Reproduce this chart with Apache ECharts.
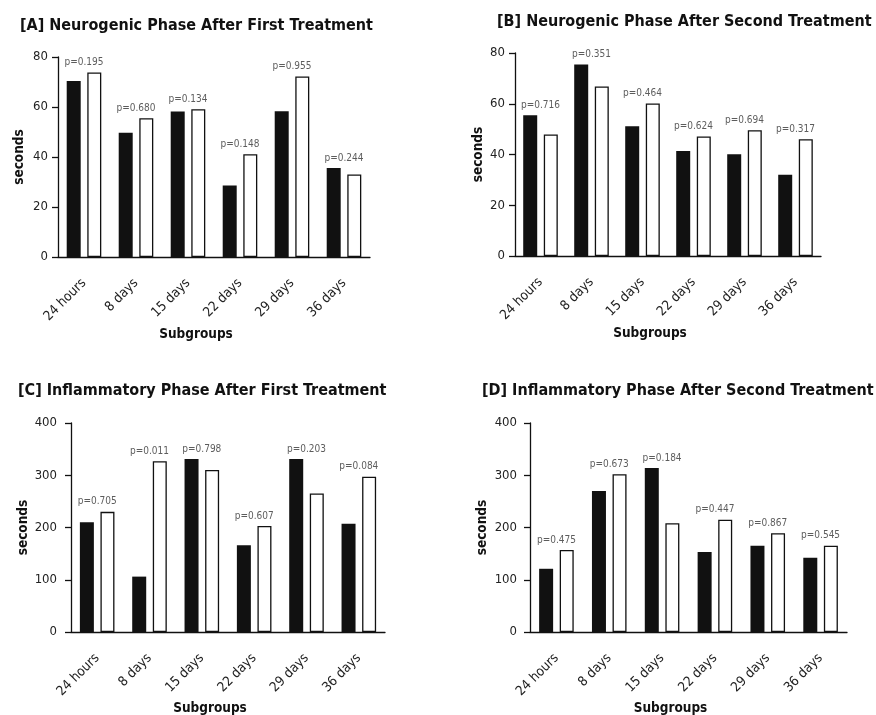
<!DOCTYPE html>
<html>
<head>
<meta charset="UTF-8"/>
<script type="text/javascript" src="https://cdn.jsdelivr.net/npm/echarts@6.0.0/dist/echarts.min.js"></script>
<style>
  html, body { margin: 0; padding: 0; background: #fff; }
  #main { width: 876px; height: 715px; }
</style>
</head>
<body>
<div id="main"></div>
<script type="text/javascript">
// categories on every panel
var categories = ['24 hours', '8 days', '15 days', '22 days', '29 days', '36 days'];

// [A] neurogenic phase, first treatment
var aBlack = [70.4, 49.7, 58.2, 28.6, 58.3, 35.6];
var aWhite = [73.8, 55.5, 59.1, 41.1, 72.2, 33.0];
var aP = ['0.195', '0.680', '0.134', '0.148', '0.955', '0.244'];

// [B] neurogenic phase, second treatment
var bBlack = [55.5, 75.5, 51.1, 41.4, 40.1, 32.0];
var bWhite = [47.9, 66.8, 60.1, 47.1, 49.6, 46.0];
var bP = ['0.716', '0.351', '0.464', '0.624', '0.694', '0.317'];

// [C] inflammatory phase, first treatment
var cBlack = [210, 106, 331, 166, 331, 207];
var cWhite = [230, 327, 310, 203, 265, 297];
var cP = ['0.705', '0.011', '0.798', '0.607', '0.203', '0.084'];

// [D] inflammatory phase, second treatment
var dBlack = [121, 270, 314, 153, 165, 142];
var dWhite = [157, 302, 208, 215, 189, 165];
var dP = ['0.475', '0.673', '0.184', '0.447', '0.867', '0.545'];

var titles = [
  '[A] Neurogenic Phase After First Treatment',
  '[B] Neurogenic Phase After Second Treatment',
  '[C] Inflammatory Phase After First Treatment',
  '[D] Inflammatory Phase After Second Treatment'
];

var font = "'DejaVu Sans Condensed', 'Liberation Sans', sans-serif";

var panels = [
  { black: aBlack, white: aWhite, p: aP, max: 80, interval: 20,
    grid: { left: 58, top: 57, width: 312, height: 200 }, title: { left: 15, top: 13 },
    yGap: 32, yMargin: 10, xGap: 70 },
  { black: bBlack, white: bWhite, p: bP, max: 80, interval: 20,
    grid: { left: 515, top: 53, width: 306, height: 203 }, title: { left: 492, top: 9 },
    yGap: 30, yMargin: 10, xGap: 70 },
  { black: cBlack, white: cWhite, p: cP, max: 400, interval: 100,
    grid: { left: 71, top: 423, width: 314, height: 209 }, title: { left: 13, top: 378 },
    yGap: 41, yMargin: 14, xGap: 67 },
  { black: dBlack, white: dWhite, p: dP, max: 400, interval: 100,
    grid: { left: 530, top: 423, width: 317, height: 209 }, title: { left: 477, top: 378 },
    yGap: 41, yMargin: 13, xGap: 67 }
];

var option = {
  backgroundColor: '#fff',
  animation: false,
  textStyle: { fontFamily: font },
  title: [],
  grid: [],
  xAxis: [],
  yAxis: [],
  series: []
};

panels.forEach(function (pn, i) {
  option.title.push({
    text: titles[i],
    left: pn.title.left,
    top: pn.title.top,
    textStyle: { fontFamily: font, fontSize: 16, fontWeight: 'bold', color: '#111' }
  });
  option.grid.push({
    left: pn.grid.left, top: pn.grid.top, width: pn.grid.width, height: pn.grid.height,
    outerBoundsMode: 'none'
  });
  option.xAxis.push({
    type: 'category',
    gridIndex: i,
    data: categories,
    name: 'Subgroups',
    nameLocation: 'middle',
    nameGap: pn.xGap,
    nameTextStyle: { fontFamily: font, fontSize: 13.5, fontWeight: 'bold', color: '#111', padding: [0, 36, 0, 0] },
    axisLine: { lineStyle: { color: '#111', width: 1.3 } },
    axisTick: { alignWithLabel: true, length: 5, lineStyle: { color: '#111', width: 1.3 } },
    axisLabel: { rotate: 45, margin: 24, fontFamily: font, fontSize: 13.5, color: '#222', interval: 0 },
    splitLine: { show: false }
  });
  option.yAxis.push({
    type: 'value',
    gridIndex: i,
    min: 0,
    max: pn.max,
    interval: pn.interval,
    name: 'seconds',
    nameLocation: 'middle',
    nameGap: pn.yGap,
    nameTextStyle: { fontFamily: font, fontSize: 13.5, fontWeight: 'bold', color: '#111' },
    axisLine: { show: true, lineStyle: { color: '#111', width: 1.3 } },
    axisTick: { show: true, length: 6, lineStyle: { color: '#111', width: 1.3 } },
    axisLabel: { margin: pn.yMargin, fontFamily: font, fontSize: 13, color: '#222' },
    splitLine: { show: false }
  });
  option.series.push({
    type: 'bar',
    xAxisIndex: i, yAxisIndex: i,
    data: pn.black,
    barWidth: 14,
    barGap: '47%',
    itemStyle: { color: '#111' }
  });
  option.series.push({
    type: 'bar',
    xAxisIndex: i, yAxisIndex: i,
    data: pn.white,
    barWidth: 14,
    barGap: '47%',
    itemStyle: { color: '#fff', borderColor: '#111', borderWidth: 1.3 }
  });
  // p-value labels sit above the taller bar of each pair
  option.series.push({
    type: 'scatter',
    xAxisIndex: i, yAxisIndex: i,
    symbolSize: 0,
    silent: true,
    data: pn.black.map(function (v, k) { return Math.max(v, pn.white[k]); }),
    label: {
      show: true,
      position: 'top',
      distance: 5,
      fontFamily: font,
      fontSize: 10,
      color: '#333',
      formatter: function (p) { return 'p=' + pn.p[p.dataIndex]; }
    }
  });
});

var myChart = echarts.init(document.getElementById('main'));
myChart.setOption(option);
</script>
</body>
</html>
